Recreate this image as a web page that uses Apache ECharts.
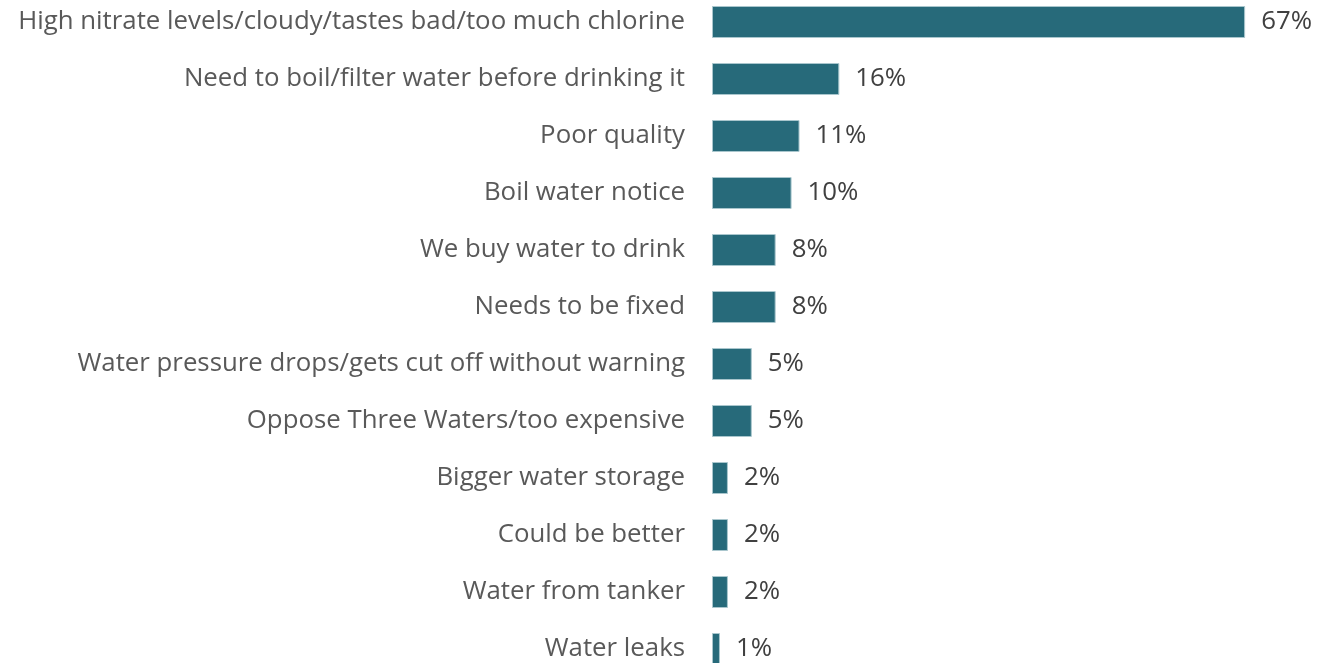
<!DOCTYPE html>
<html>
<head>
<meta charset="utf-8">
<script src="https://cdn.jsdelivr.net/npm/echarts@6/dist/echarts.min.js"></script>
<style>
  html, body { margin: 0; padding: 0; background: #ffffff; }
  #chart { width: 1340px; height: 663px; }
</style>
</head>
<body>
<div id="chart"></div>
<script>
// Reasons given, top to bottom
const categories = [
  'High nitrate levels/cloudy/tastes bad/too much chlorine',
  'Need to boil/filter water before drinking it',
  'Poor quality',
  'Boil water notice',
  'We buy water to drink',
  'Needs to be fixed',
  'Water pressure drops/gets cut off without warning',
  'Oppose Three Waters/too expensive',
  'Bigger water storage',
  'Could be better',
  'Water from tanker',
  'Water leaks'
];
// Share of respondents (%)
const shares = [67, 16, 11, 10, 8, 8, 5, 5, 2, 2, 2, 1];

const chart = echarts.init(document.getElementById('chart'), null, { renderer: 'canvas' });

chart.setOption({
  animation: false,
  // rows sit on the tick positions, first at the top edge, last at the bottom edge
  grid: { left: 712, right: 71, top: 22, bottom: 14, containLabel: false },
  xAxis: {
    type: 'value', min: 0, max: 70,
    show: false
  },
  yAxis: {
    type: 'category',
    inverse: true,
    boundaryGap: false,
    data: categories,
    axisLine: { show: false },
    axisTick: { show: false },
    axisLabel: {
      margin: 27,
      color: '#595959',
      fontFamily: 'Open Sans',
      fontSize: 25.8
    }
  },
  series: [{
    type: 'bar',
    data: shares,
    barWidth: 32,
    itemStyle: { color: '#276a7a', borderColor: '#a9c6cd', borderWidth: 1 },
    label: {
      show: true,
      position: 'right',
      distance: 16,
      color: '#404040',
      fontFamily: 'Open Sans',
      fontSize: 25.8,
      formatter: p => p.value + '%'
    }
  }]
});
</script>
</body>
</html>
